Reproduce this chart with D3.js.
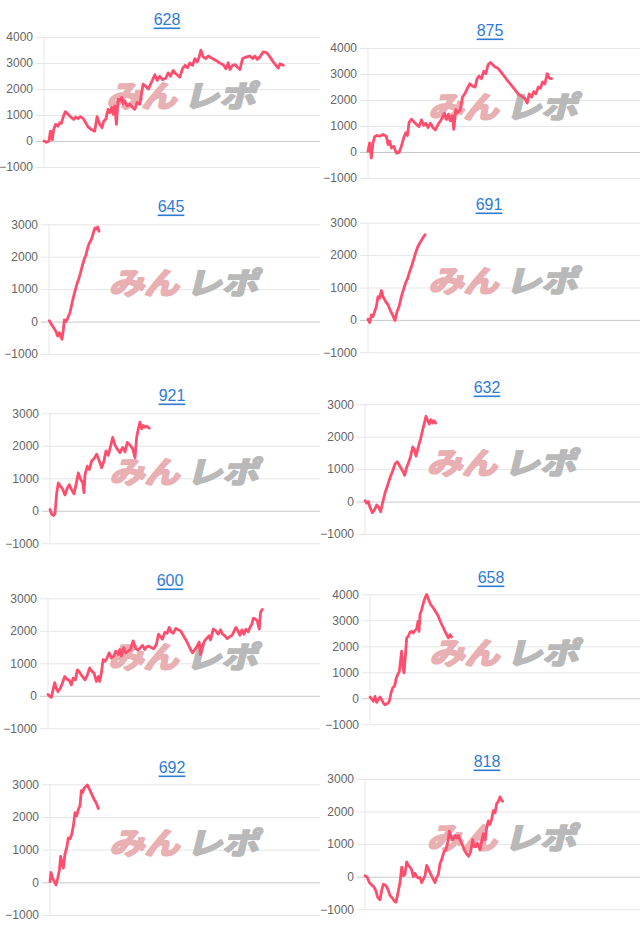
<!DOCTYPE html>
<html><head><meta charset="utf-8">
<script src="https://cdn.jsdelivr.net/npm/d3@7"></script>
<style>body{margin:0;background:#fff}svg{display:block}</style>
</head><body>
<svg id="chart" width="640" height="931"></svg>
<script>
// ---- DATA ----
const titles = ["628","875","645","691","921","632","600","658","692","818"];

const ticks4 = [4000,3000,2000,1000,0,-1000];
const ticks3 = [3000,2000,1000,0,-1000];

// x-axis length (in steps) for each chart
const xMax = [827,815,813,815,810,825,815,810,810,825];

// [step, balance] pairs
const s628 = [[0,0],[7,-50],[15,0],[19,380],[25,50],[29,440],[35,640],[42,570],[47,700],[52,680],[57,900],[64,1130],[72,1030],[82,900],[89,830],[95,920],[102,860],[109,935],[117,870],[125,700],[132,545],[142,440],[152,380],[159,935],[167,640],[174,510],[179,770],[185,830],[192,1220],[197,1090],[203,1290],[207,1030],[212,1350],[217,640],[222,1610],[227,1545],[233,1675],[237,1415],[242,1545],[249,1350],[257,1415],[265,1290],[272,1220],[279,1480],[287,1415],[297,2190],[305,2100],[313,2000],[322,2260],[332,2545],[339,2325],[347,2490],[355,2360],[365,2415],[372,2620],[379,2490],[387,2715],[395,2585],[407,2455],[415,2780],[423,2910],[430,2820],[437,3000],[445,2910],[452,3170],[459,3040],[465,3235],[470,3490],[477,3235],[485,3170],[492,3270],[502,3190],[515,3100],[527,3000],[537,2935],[545,2780],[552,3010],[557,2750],[565,2910],[573,2935],[579,2845],[587,2750],[595,3170],[607,3235],[617,3270],[625,3170],[632,3270],[639,3140],[647,3235],[657,3430],[667,3400],[677,3235],[687,3040],[695,2910],[702,2805],[707,2975],[717,2910]];

const s875 = [[0,25],[5,350],[10,-230],[15,350],[20,585],[27,635],[35,610],[45,675],[55,610],[60,285],[65,415],[70,155],[77,220],[85,-40],[93,-15],[100,220],[107,545],[113,740],[118,635],[123,1130],[130,1260],[138,1155],[145,1065],[153,975],[160,1235],[167,1025],[173,1105],[180,935],[187,1105],[195,935],[202,845],[210,1065],[217,1195],[223,1325],[229,1495],[235,1260],[241,1455],[247,1195],[253,1390],[257,870],[263,1625],[270,1520],[277,1650],[283,2105],[290,2235],[297,2430],[305,2625],[313,2530],[321,2495],[327,2820],[333,2920],[340,2820],[347,3105],[353,3015],[360,3365],[367,3440],[373,3365],[380,3275],[390,3210],[400,3050],[410,2885],[420,2715],[430,2560],[440,2400],[450,2235],[460,2145],[470,2065],[477,1885],[483,2235],[490,2105],[497,2325],[503,2235],[510,2495],[517,2455],[523,2690],[530,2625],[537,3015],[543,2845],[550,2820]];

const s645 = [[1,30],[8,-100],[15,-205],[21,-310],[26,-445],[31,-340],[35,-465],[39,-545],[43,-260],[46,50],[51,0],[56,100],[63,280],[69,565],[75,825],[83,1135],[91,1370],[98,1650],[105,1905],[111,2060],[116,2270],[121,2420],[127,2525],[133,2730],[138,2885],[143,2855],[146,2920],[150,2785]];

const s691 = [[0,20],[5,-80],[10,155],[15,100],[20,260],[25,410],[30,720],[35,670],[40,905],[45,720],[53,565],[60,465],[67,290],[75,125],[81,-20],[87,260],[93,410],[100,720],[107,950],[113,1155],[119,1290],[125,1495],[131,1670],[137,1875],[143,2080],[149,2250],[155,2370],[161,2475],[167,2575],[171,2630]];

const s921 = [[0,40],[5,-105],[10,-145],[15,-85],[20,540],[25,855],[32,750],[38,665],[45,490],[52,700],[58,800],[65,645],[72,520],[80,905],[85,1165],[92,960],[98,875],[102,560],[105,1115],[112,1375],[118,1270],[125,1530],[132,1605],[140,1740],[147,1560],[155,1325],[162,1530],[168,1845],[175,1710],[182,2000],[188,2260],[195,2020],[202,1895],[210,1790],[218,1950],[225,1810],[232,2105],[240,2020],[248,1915],[255,1635],[260,2260],[265,2520],[270,2730],[275,2520],[280,2625],[285,2570],[290,2605],[298,2540]];

const s632 = [[0,30],[5,-50],[10,0],[15,-180],[22,-345],[28,-265],[35,-105],[41,-180],[47,-315],[53,-30],[60,265],[67,475],[75,735],[83,945],[90,1160],[97,1230],[105,1085],[113,945],[119,810],[125,1055],[131,1210],[137,1400],[143,1685],[148,1610],[153,1400],[160,1685],[167,1945],[173,2210],[178,2420],[183,2630],[188,2495],[193,2390],[198,2525],[203,2420],[207,2495],[212,2420]];

const s600 = [[0,40],[5,-10],[10,-50],[15,175],[20,405],[25,230],[30,125],[37,230],[43,385],[50,595],[57,510],[63,490],[70,335],[75,540],[82,490],[88,800],[95,720],[103,595],[111,490],[118,645],[125,855],[132,750],[138,700],[145,440],[151,595],[155,440],[160,700],[165,1115],[171,1060],[177,1165],[183,1320],[190,1165],[197,1220],[203,1375],[210,1270],[215,1425],[220,1220],[227,1480],[233,1320],[240,1375],[247,1425],[255,1690],[263,1450],[270,1405],[277,1480],[283,1550],[290,1425],[295,1510],[302,1530],[310,1480],[317,1450],[325,1585],[331,1895],[337,1820],[343,1740],[350,1950],[357,1925],[363,2105],[369,1970],[375,1925],[383,2075],[390,2030],[397,2000],[405,1865],[413,1720],[420,1585],[427,1425],[433,1320],[440,1425],[447,1530],[453,1655],[457,1270],[463,1530],[469,1690],[475,1760],[482,1845],[487,1720],[495,2050],[503,2000],[510,1895],[517,2030],[523,1895],[530,1845],[537,1760],[545,1820],[552,1865],[558,2000],[563,2105],[569,2000],[575,1865],[581,2030],[587,1895],[593,2050],[600,1970],[605,2105],[611,2210],[615,2385],[621,2365],[627,2310],[633,2050],[637,2575],[642,2655]];

const s658 = [[0,50],[5,-25],[10,-115],[15,75],[20,-155],[25,-50],[30,50],[35,-50],[40,-180],[45,-245],[52,-205],[58,-115],[63,205],[68,400],[74,485],[78,745],[83,910],[88,1040],[92,1490],[95,1810],[98,1255],[102,975],[106,1615],[110,2320],[115,2385],[120,2540],[125,2575],[130,2515],[135,2615],[140,2665],[144,2960],[147,2575],[150,3220],[155,3410],[160,3665],[165,3860],[170,3990],[175,3820],[182,3600],[190,3475],[198,3310],[205,3155],[212,2925],[218,2770],[225,2575],[230,2450],[235,2320],[240,2450],[245,2360]];

const s692 = [[0,20],[3,300],[8,125],[13,20],[18,-80],[23,125],[28,360],[32,795],[36,590],[40,435],[45,875],[50,1050],[55,1360],[60,1330],[65,1465],[70,1720],[75,2135],[80,2030],[85,2235],[90,2340],[94,2805],[98,2750],[102,2875],[108,2940],[112,2980],[118,2855],[125,2700],[132,2545],[138,2445],[145,2260]];

const s818 = [[0,30],[7,-20],[13,-180],[20,-250],[27,-315],[33,-440],[38,-630],[45,-705],[50,-420],[55,-230],[60,-250],[65,-315],[70,-420],[75,-570],[82,-655],[89,-760],[93,-780],[100,-440],[105,-180],[110,295],[115,30],[120,85],[125,455],[130,345],[135,295],[140,210],[145,0],[150,105],[155,0],[160,-40],[165,-20],[170,-180],[175,-75],[180,30],[185,345],[190,240],[197,85],[203,-40],[210,-180],[215,-20],[220,65],[225,400],[230,525],[237,770],[243,840],[249,1085],[253,1400],[258,1220],[263,1135],[270,1265],[275,1190],[280,1265],[285,1135],[292,980],[298,820],[305,695],[311,630],[317,770],[323,1135],[328,925],[333,925],[337,1030],[341,945],[345,820],[350,1085],[355,1325],[360,1135],[365,1505],[370,1715],[375,1610],[380,1770],[385,2030],[390,1960],[395,2240],[400,2315],[405,2450],[410,2345],[413,2315]];

const seriesList = [s628,s875,s645,s691,s921,s632,s600,s658,s692,s818];
const tickList = [ticks4,ticks4,ticks3,ticks3,ticks3,ticks3,ticks3,ticks4,ticks3,ticks3];

// ---- LAYOUT ----
const layout = [
  {ax:44, rx:320, top:37,   bot:167,   tx:167, ty:19},
  {ax:368,rx:640, top:48,   bot:178,   tx:490, ty:30},
  {ax:49, rx:320, top:224.3,bot:354,   tx:171, ty:206},
  {ax:368,rx:640, top:222.7,bot:352.3, tx:489, ty:204},
  {ax:50, rx:320, top:413.3,bot:543.3, tx:172, ty:395},
  {ax:365,rx:640, top:404.3,bot:534,   tx:487, ty:387},
  {ax:48, rx:320, top:598.3,bot:728.3, tx:170, ty:580},
  {ax:370,rx:640, top:594.3,bot:724.3, tx:491, ty:577},
  {ax:50, rx:320, top:784.3,bot:915,   tx:172, ty:767},
  {ax:365,rx:640, top:779,  bot:909.3, tx:487, ty:761}
];

const svg = d3.select("#chart");
svg.append("rect").attr("width",640).attr("height",931).attr("fill","#fff");

seriesList.forEach((data, i) => {
  const L = layout[i];
  const ticks = tickList[i];
  const g = svg.append("g");
  const y = d3.scaleLinear().domain([d3.min(ticks), d3.max(ticks)]).range([L.bot, L.top]);
  const x = d3.scaleLinear().domain([0, xMax[i]]).range([L.ax, L.rx]);

  // title
  g.append("text")
    .attr("x", L.tx).attr("y", L.ty)
    .attr("text-anchor","middle").attr("dominant-baseline","central")
    .attr("font-family","'Liberation Sans', Arial, sans-serif")
    .attr("font-size",16).attr("fill","#2e7bd6")
    .attr("text-decoration","underline")
    .text(titles[i]);

  // grid + labels
  const axis = d3.axisLeft(y).tickValues(ticks).tickSize(-(L.rx - L.ax + 8)).tickPadding(3).tickFormat(d3.format("d"));
  const ag = g.append("g").attr("transform",`translate(${L.ax-8},0)`).call(axis);
  ag.select(".domain").remove();
  ag.selectAll(".tick line").attr("stroke", d => d === 0 ? "#c8c8c8" : "#e6e6e6").attr("stroke-width",1);
  ag.selectAll(".tick text")
    .attr("font-family","'Liberation Sans', Arial, sans-serif")
    .attr("font-size",12).attr("fill","#666");

  // vertical axis line
  g.append("line").attr("x1",L.ax).attr("x2",L.ax).attr("y1",y(d3.max(ticks))).attr("y2",y(d3.min(ticks)))
    .attr("stroke","#e6e6e6").attr("stroke-width",1);

  // watermark
  const cx = (L.ax + L.rx)/2 + 2, cy = (L.top + L.bot)/2 - 9;
  const wm = g.append("g").attr("transform",`translate(${cx},${cy}) skewX(-14)`);
  wm.append("text").attr("x",-74).attr("y",1).attr("dominant-baseline","central")
    .attr("font-family","'Noto Sans CJK JP', sans-serif").attr("font-weight",700).attr("font-size",30)
    .attr("textLength",70).attr("lengthAdjust","spacingAndGlyphs")
    .attr("fill","#e9b0b4").attr("stroke","#e9b0b4").attr("stroke-width",2.2).attr("stroke-linejoin","round")
    .text("みん");
  wm.append("text").attr("x",3).attr("y",1).attr("dominant-baseline","central")
    .attr("font-family","'Noto Sans CJK JP', sans-serif").attr("font-weight",700).attr("font-size",30)
    .attr("textLength",72).attr("lengthAdjust","spacingAndGlyphs")
    .attr("fill","#b9b9b9").attr("stroke","#b9b9b9").attr("stroke-width",2.2).attr("stroke-linejoin","round")
    .text("レポ");

  // line
  const line = d3.line().x(d => x(d[0])).y(d => y(d[1]));
  g.append("path").datum(data).attr("d", line)
    .attr("fill","none").attr("stroke","#ff4d6d").attr("stroke-width",2.8)
    .attr("stroke-linejoin","round").attr("stroke-linecap","round");
});
</script>
</body></html>
